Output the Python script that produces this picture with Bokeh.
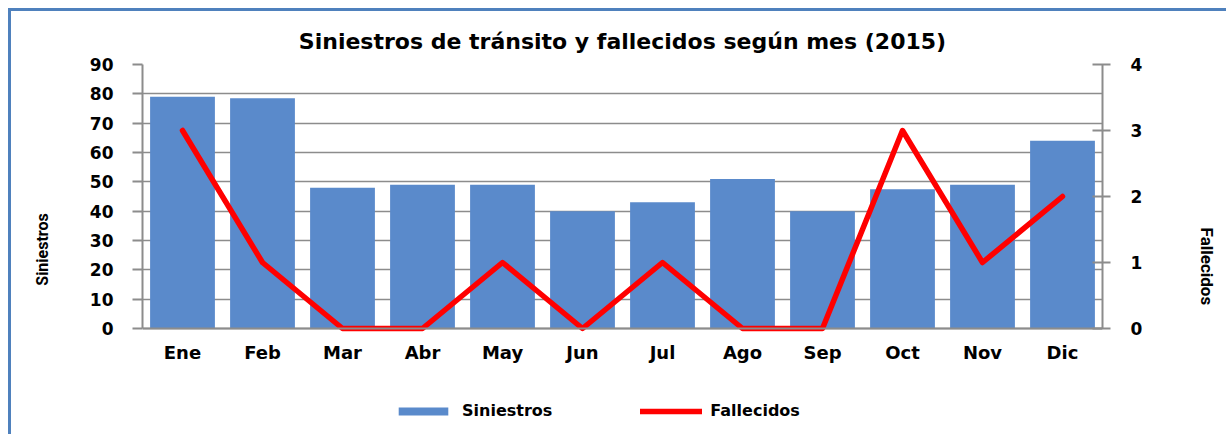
from bokeh.plotting import figure
from bokeh.models import Range1d, LinearAxis, FixedTicker, Legend, LegendItem
from bokeh.embed import file_html
from bokeh.resources import INLINE

# ---- data ----
months = ["Ene", "Feb", "Mar", "Abr", "May", "Jun", "Jul", "Ago", "Sep", "Oct", "Nov", "Dic"]
siniestros = [79, 78.5, 48, 49, 49, 40, 43, 51, 40, 47.5, 49, 64]
fallecidos = [3, 1, 0, 0, 1, 0, 1, 0, 0, 3, 1, 2]
left_ticks = [0, 10, 20, 30, 40, 50, 60, 70, 80, 90]
right_ticks = [0, 1, 2, 3, 4]

title = "Siniestros de tránsito y fallecidos según mes (2015)"
BAR = "#5A8ACB"
GRID = "#8C8C8C"
FONT = "DejaVu Sans"
NARROW = "'Liberation Sans Narrow', 'Roboto', sans-serif"

# layout: the plotted part is 264 px tall; the frame continues below zero
# so that the legend can sit inside it
PLOT_H = 264
FRAME_H = 370
LMAX, RMAX = max(left_ticks), max(right_ticks)
l_start = -LMAX * (FRAME_H - PLOT_H) / PLOT_H
r_start = -RMAX * (FRAME_H - PLOT_H) / PLOT_H

p = figure(x_range=months, y_range=Range1d(l_start, LMAX),
           frame_width=960, frame_height=FRAME_H,
           min_border_left=131, min_border_right=124,
           min_border_top=53, min_border_bottom=0,
           output_backend="svg", toolbar_location=None,
           title=title)
p.styles = {"margin-left": "8px", "margin-top": "8px",
            "border-left": "3px solid #4F81BD", "border-top": "3px solid #4F81BD"}
p.outline_line_color = None
p.background_fill_color = "white"
p.border_fill_color = "white"

p.title.align = "center"
p.title.text_font = FONT
p.title.text_font_size = "22px"
p.title.text_font_style = "bold"
p.title.text_color = "black"
p.title.standoff = 21

p.extra_y_ranges = {"f": Range1d(r_start, RMAX)}

bars = p.vbar(x=months, top=siniestros, width=0.81, fill_color=BAR, line_color=None)
line = p.line(x=months, y=fallecidos, y_range_name="f", line_color="#FF0000",
              line_width=5.5, line_join="round", line_cap="round")

# left axis
ya = p.yaxis[0]
ya.bounds = (0, LMAX)
ya.ticker = FixedTicker(ticks=left_ticks)
ya.axis_line_color = GRID
ya.axis_line_width = 2
ya.major_tick_line_color = GRID
ya.major_tick_line_width = 2
ya.major_tick_out = 10
ya.major_tick_in = 0
ya.minor_tick_line_color = None
ya.major_label_standoff = 19
ya.major_label_text_font = FONT
ya.major_label_text_font_size = "17px"
ya.major_label_text_font_style = "bold"
ya.major_label_text_color = "black"
ya.axis_label = "Siniestros"
ya.axis_label_standoff = 35
ya.axis_label_text_font = NARROW
ya.axis_label_text_font_size = "16px"
ya.axis_label_text_font_style = "bold"
ya.axis_label_text_color = "black"

# right axis
ra = LinearAxis(y_range_name="f", ticker=FixedTicker(ticks=right_ticks), bounds=(0, RMAX))
ra.axis_line_color = GRID
ra.axis_line_width = 2
ra.major_tick_line_color = GRID
ra.major_tick_line_width = 2
ra.major_tick_out = 8
ra.major_tick_in = 10
ra.minor_tick_line_color = None
ra.major_label_standoff = 20
ra.major_label_text_font = FONT
ra.major_label_text_font_size = "17px"
ra.major_label_text_font_style = "bold"
ra.major_label_text_color = "black"
ra.axis_label = "\u00a0" * 8 + "Fallecidos"
ra.axis_label_standoff = 52
ra.axis_label_text_font = NARROW
ra.axis_label_text_font_size = "17px"
ra.axis_label_text_font_style = "bold"
ra.axis_label_text_color = "black"
p.add_layout(ra, "right")

# x axis, pinned at zero
xa = p.xaxis[0]
xa.fixed_location = 0
xa.axis_line_color = GRID
xa.axis_line_width = 2
xa.major_tick_line_color = None
xa.minor_tick_line_color = None
xa.major_label_standoff = 7
xa.major_label_text_font = FONT
xa.major_label_text_font_size = "18px"
xa.major_label_text_font_style = "bold"
xa.major_label_text_color = "black"

p.xgrid.grid_line_color = None
p.ygrid.ticker = FixedTicker(ticks=left_ticks)
p.ygrid.grid_line_color = GRID
p.ygrid.grid_line_width = 1.5

legend = Legend(items=[LegendItem(label="Siniestros", renderers=[bars]),
                       LegendItem(label="Fallecidos", renderers=[line])],
                orientation="horizontal", location=(250, 14),
                glyph_width=62, glyph_height=10, label_standoff=8, spacing=88,
                padding=5, margin=0,
                label_text_font=FONT, label_text_font_size="16px",
                label_text_font_style="bold", label_text_color="black",
                border_line_color=None, background_fill_alpha=0)
p.add_layout(legend)

open("out.html", "w").write(file_html(p, INLINE))
